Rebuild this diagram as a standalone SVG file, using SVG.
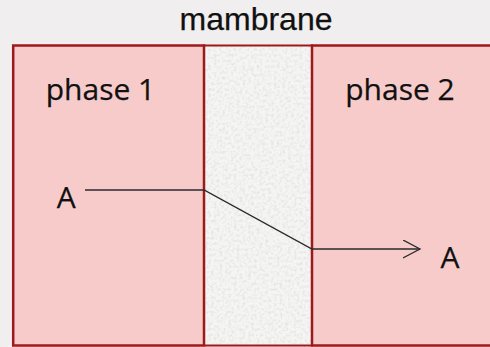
<svg xmlns="http://www.w3.org/2000/svg" width="490" height="347" viewBox="0 0 490 347">
  <defs>
    <style>
      .panel { fill: #f8cbcb; stroke: #9e1a1a; stroke-width: 2.5; }
      .lbl { font-family: "Open Sans", "Liberation Sans", sans-serif; font-size: 30px; fill: #111; stroke: #111; stroke-width: 0.25; text-anchor: middle; }
      .top { font-family: "Liberation Sans", sans-serif; font-size: 32px; }
      .flow { fill: none; stroke: #2a2a2a; stroke-width: 1.3; }
    </style>
    <filter id="grain" x="0" y="0" width="100%" height="100%">
      <feTurbulence type="fractalNoise" baseFrequency="0.35" numOctaves="3" seed="7" result="n"/>
      <feColorMatrix in="n" type="matrix" values="0 0 0 0 0.80  0 0 0 0 0.80  0 0 0 0 0.79  0 0 0 -3 1.75" result="c"/>
      <feComposite in="c" in2="SourceGraphic" operator="in" result="m"/>
      <feMerge><feMergeNode in="SourceGraphic"/><feMergeNode in="m"/></feMerge>
    </filter>
    <marker id="open" markerWidth="20" markerHeight="20" refX="17" refY="9" orient="auto" markerUnits="userSpaceOnUse">
      <path d="M0,0 L17,9 L0,18" fill="none" stroke="#2a2a2a" stroke-width="1.3"/>
    </marker>
  </defs>
  <rect x="0" y="0" width="490" height="347" fill="#f0eeef"/>
  <g id="membrane-label">
    <text class="lbl top" x="256" y="30">mambrane</text>
  </g>
  <g id="membrane">
    <rect x="204" y="45.5" width="108" height="300" fill="#f5f5f4" filter="url(#grain)"/>
    <rect x="204" y="45.5" width="108" height="300" fill="none" stroke="#9e1a1a" stroke-width="2"/>
  </g>
  <g id="phase1">
    <rect class="panel" x="13.2" y="45.5" width="190.8" height="300"/>
    <text class="lbl" x="100.5" y="100">phase 1</text>
    <text class="lbl" x="66.3" y="208.3">A</text>
  </g>
  <g id="phase2">
    <rect class="panel" x="312" y="45.5" width="190" height="300"/>
    <text class="lbl" x="400" y="100">phase 2</text>
    <text class="lbl" x="450" y="267.7">A</text>
  </g>
  <g id="connectors">
    <polyline class="flow" points="85,190 204,190 312,249 420,249" marker-end="url(#open)"/>
  </g>
</svg>
